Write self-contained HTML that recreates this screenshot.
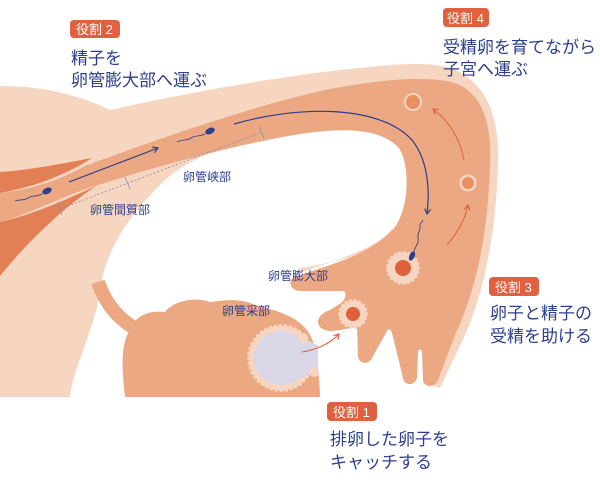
<!DOCTYPE html>
<html><head><meta charset="utf-8"><style>
html,body{margin:0;padding:0;background:#fff;}
svg{display:block;}
text{font-family:"Liberation Sans","Noto Sans CJK JP",sans-serif;}
</style></head><body>
<svg width="600" height="482" viewBox="0 0 600 482" xmlns="http://www.w3.org/2000/svg">
<defs>
<marker id="an" markerWidth="8" markerHeight="8" refX="6" refY="4" orient="auto" markerUnits="userSpaceOnUse"><path d="M1,1 L6,4 L1,7" fill="none" stroke="#2c3e8c" stroke-width="1.2"/></marker>
<marker id="ar" markerWidth="8" markerHeight="8" refX="6" refY="4" orient="auto" markerUnits="userSpaceOnUse"><path d="M1,1 L6,4 L1,7" fill="none" stroke="#e0603f" stroke-width="1.2"/></marker>
</defs>
<!-- pale outer -->
<path fill="#f7d6c1" d="M0,86 C50,86 85,98 110,110 C180,94 270,78 340,70 C400,63 430,62 450,68 C485,80 500,115 498,165 C496,230 485,290 465,335 L440,388 L430,385 L420,300 L392,229 C375,250 330,262 296,274 L300,268 C340,262 385,250 403,225 C415,205 415,160 402,141 C382,119 340,120 300,127 C240,138 185,158 160,185 C130,215 105,250 100,290 C95,330 72,370 70,397 L0,397 Z"/>
<!-- mid tube -->
<path fill="#eba882" d="M0,193 C30,190 60,180 85,166 C150,142 250,106 330,89 C390,78 430,76 455,83 C485,94 492,130 490,165 C488,230 478,285 455,335 L438,380 C435,388 424,388 423,380 L422,352 C421,348 419,349 418,352 L417,378 C415,386 404,386 403,378 L392,333 C390,328 388,328 386,333 L373,356 C370,365 360,365 358,357 L357,328 C350,327 340,331 330,331 C315,330 313,316 330,310 L341,303 C345,300 347,294 344,291 L300,291 C288,290 287,278 298,276 C330,264 370,256 395,227 C410,205 410,162 398,147 C378,127 340,128 300,134 C240,144 170,162 95,186 C60,197 30,214 0,222 Z"/>
<!-- dark bands -->
<path fill="#e27f55" d="M0,172 C30,170 60,164 92,158 C70,172 40,186 0,193 Z"/>
<path fill="#e27f55" d="M0,222 C35,214 65,200 96,186 C60,210 25,245 0,276 Z"/>
<!-- ligament -->
<path d="M98,282 C106,305 120,322 142,332" fill="none" stroke="#eba882" stroke-width="14"/>
<!-- ovary -->
<path fill="#eba882" d="M125,397 C122,370 120,345 130,330 C135,315 150,310 165,312 C175,300 195,297 210,302 C225,300 240,298 255,305 C275,310 292,315 302,325 C312,334 318,345 320,397 Z"/>
<!-- follicle -->
<circle cx="281" cy="358" r="32" fill="#f7d6c1" stroke="#f7d6c1" stroke-width="4" stroke-dasharray="0 5" stroke-linecap="round"/>
<circle cx="281" cy="358" r="27" fill="#d9d6e8"/>
<path d="M300,338 L318,345 L318,372 L300,378 Z" fill="#d9d6e8"/>
<circle cx="303" cy="338" r="5" fill="#f7d6c1"/><circle cx="314" cy="372" r="5" fill="#f7d6c1"/>
<!-- eggs -->
<circle cx="353" cy="314" r="13" fill="#f7d6c1" stroke="#f7d6c1" stroke-width="4" stroke-dasharray="0 4.5" stroke-linecap="round"/>
<circle cx="353" cy="314" r="7" fill="#e0603a"/>
<circle cx="403" cy="268" r="15" fill="#f7d6c1" stroke="#f7d6c1" stroke-width="4" stroke-dasharray="0 4.5" stroke-linecap="round"/>
<circle cx="403" cy="268" r="8" fill="#e0603a"/>
<circle cx="468" cy="183" r="8.5" fill="#f7d6c1"/><circle cx="468" cy="183" r="6" fill="#e7915f"/>
<circle cx="413" cy="102" r="9" fill="#f7d6c1"/><circle cx="413" cy="102" r="7" fill="#e7915f"/>
<!-- red arrows -->
<path d="M302,352 C315,350 330,344 339,334" fill="none" stroke="#e0603f" stroke-width="1" marker-end="url(#ar)"/>
<path d="M447,245 C458,232 465,220 468,205" fill="none" stroke="#e0603f" stroke-width="1" marker-end="url(#ar)"/>
<path d="M464,160 C460,138 448,120 433,109" fill="none" stroke="#e0603f" stroke-width="1" marker-end="url(#ar)"/>
<!-- navy arrows -->
<path d="M234,124 C300,105 380,105 412,140 C428,160 430,190 427,214" fill="none" stroke="#2c3e8c" stroke-width="1.2" marker-end="url(#an)"/>
<path d="M69,182 L158,148" fill="none" stroke="#2c3e8c" stroke-width="1.2" marker-end="url(#an)"/>
<!-- sperm -->
<ellipse cx="47" cy="191" rx="5" ry="3" transform="rotate(-25 47 191)" fill="#2c3e8c"/>
<path d="M42,194 C36,197 32,195 28,198 C24,201 20,199 15,201" fill="none" stroke="#2c3e8c" stroke-width="0.8"/>
<ellipse cx="210" cy="131" rx="5" ry="3" transform="rotate(-25 210 131)" fill="#2c3e8c"/>
<path d="M205,134 C199,137 195,135 191,138 C187,141 183,139 177,142" fill="none" stroke="#2c3e8c" stroke-width="0.8"/>
<ellipse cx="412" cy="256" rx="5" ry="2.6" transform="rotate(-65 412 256)" fill="#2c3e8c"/>
<path d="M414,251 C416,245 419,243 418,238 C417,233 421,230 420,226 C419,223 423,222 423,220" fill="none" stroke="#2c3e8c" stroke-width="0.8"/>
<!-- dotted line -->
<path d="M60,209 L262,132" stroke="#8a8fa8" stroke-width="0.8" stroke-dasharray="2 2"/>
<path d="M57,202 L62,215 M125,177 L130,189 M259,126 L264,138" stroke="#8a8fa8" stroke-width="0.8"/>
<!-- small labels -->
<g fill="#2c3e8c" font-size="12">
<text x="90" y="214">卵管間質部</text>
<text x="183" y="181">卵管峡部</text>
<text x="268" y="280">卵管膨大部</text>
<text x="222" y="315">卵管采部</text>
</g>
<!-- role tags -->
<g font-size="13" fill="#fff">
<rect x="70" y="20" width="50" height="18" rx="4" fill="#e0603f"/><text x="76" y="34">役割 2</text>
<rect x="443" y="8" width="46" height="19" rx="4" fill="#e0603f"/><text x="447" y="23">役割 4</text>
<rect x="489" y="277" width="50" height="19" rx="4" fill="#e0603f"/><text x="495" y="292">役割 3</text>
<rect x="327" y="402" width="50" height="19" rx="4" fill="#e0603f"/><text x="333" y="417">役割 1</text>
</g>
<g fill="#2c3e8c" font-size="17">
<text x="71" y="64">精子を</text>
<text x="71" y="86">卵管膨大部へ運ぶ</text>
<text x="443" y="53">受精卵を育てながら</text>
<text x="443" y="75">子宮へ運ぶ</text>
<text x="490" y="319">卵子と精子の</text>
<text x="490" y="342">受精を助ける</text>
<text x="330" y="445">排卵した卵子を</text>
<text x="330" y="468">キャッチする</text>
</g>
</svg>
</body></html>
